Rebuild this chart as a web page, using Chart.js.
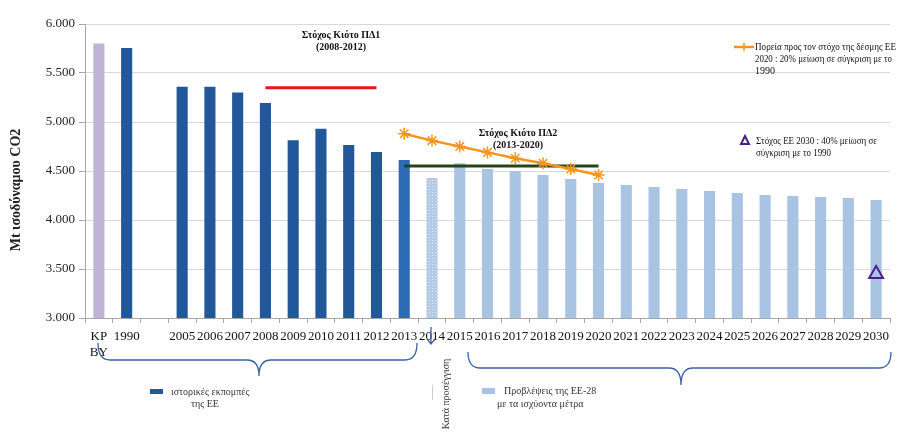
<!DOCTYPE html>
<html>
<head>
<meta charset="utf-8">
<script src="https://cdn.jsdelivr.net/npm/chart.js@4.4.1/dist/chart.umd.min.js"></script>
<style>
  body { margin: 0; background: #fff; }
  #wrap { width: 900px; height: 435px; position: relative; }
</style>
</head>
<body>
<div id="wrap"><canvas id="chart"></canvas></div>
<script>
// κατηγορίες (KP BY, 1990, κενό, 2005-2030)
const labels = [['KP', 'BY'], '1990', '', '2005', '2006', '2007', '2008', '2009', '2010', '2011', '2012',
  '2013', '2014', '2015', '2016', '2017', '2018', '2019', '2020', '2021', '2022', '2023', '2024',
  '2025', '2026', '2027', '2028', '2029', '2030'];

// εκπομπές σε Mt ισοδύναμου CO2
const emissions = [5800, 5755, null, 5360, 5360, 5300, 5195, 4815, 4930, 4765, 4695,
  4612, 4428, 4580, 4520, 4500, 4460, 4418, 4378, 4357, 4337, 4316, 4296,
  4275, 4255, 4245, 4235, 4225, 4205];

// στόχοι Κιότο
const kyoto1 = [null, null, null, null, null, null, 5350, 5350, 5350, 5350, 5350];
const kyoto2 = [null, null, null, null, null, null, null, null, null, null, null,
  4550, 4550, 4550, 4550, 4550, 4550, 4550, 4550];

// πορεία προς τον στόχο 2020
const path2020 = [null, null, null, null, null, null, null, null, null, null, null,
  4880, 4810, 4750, 4690, 4630, 4580, 4520, 4460];

// στόχος 2030
const target2030 = [];
target2030[28] = 3450;

const yTicks = [3000, 3500, 4000, 4500, 5000, 5500, 6000];

const SERIF = '"Liberation Serif", "DejaVu Serif", serif';

// μοτίβο για το 2014 (κατά προσέγγιση)
function dotPattern() {
  const c = document.createElement('canvas');
  c.width = 3; c.height = 3;
  const g = c.getContext('2d');
  g.fillStyle = '#b3c9e6';
  g.fillRect(0, 0, 3, 3);
  g.fillStyle = '#e3ecf7';
  g.fillRect(0, 0, 1, 1);
  return g.createPattern(c, 'repeat');
}

const barColors = emissions.map((v, i) => {
  if (i === 0) return '#bfb3d8';
  if (i <= 10) return '#22589a';
  if (i === 11) return '#2e6bb6';
  if (i === 12) return dotPattern();
  return '#a9c3e3';
});

function brace(ctx, x1, x2, yTop, yMid, xTip, yTip) {
  const r = 12;
  ctx.beginPath();
  ctx.moveTo(x1, yTop);
  ctx.quadraticCurveTo(x1, yMid, x1 + r, yMid);
  ctx.lineTo(xTip - r, yMid);
  ctx.quadraticCurveTo(xTip, yMid, xTip, yTip);
  ctx.quadraticCurveTo(xTip, yMid, xTip + r, yMid);
  ctx.lineTo(x2 - r, yMid);
  ctx.quadraticCurveTo(x2, yMid, x2, yTop);
  ctx.stroke();
}

const extras = {
  id: 'extras',
  afterDraw(chart) {
    const ctx = chart.ctx;
    ctx.save();

    // τίτλος άξονα y
    ctx.save();
    ctx.translate(16, 190);
    ctx.rotate(-Math.PI / 2);
    ctx.font = 'bold 14px ' + SERIF;
    ctx.fillStyle = '#222';
    ctx.textAlign = 'center';
    ctx.textBaseline = 'middle';
    ctx.fillText('Mt ισοδύναμου CO2', 0, 0);
    ctx.restore();

    // Κιότο
    ctx.fillStyle = '#111';
    ctx.textAlign = 'center';
    ctx.textBaseline = 'middle';
    ctx.font = 'bold 10px ' + SERIF;
    ctx.fillText('Στόχος Κιότο ΠΔ1', 341, 35);
    ctx.fillText('(2008-2012)', 341, 47);
    ctx.fillText('Στόχος Κιότο ΠΔ2', 518, 133);
    ctx.fillText('(2013-2020)', 518, 145);

    // υπόμνημα πάνω δεξιά
    ctx.strokeStyle = '#f7941e';
    ctx.lineWidth = 2.5;
    ctx.beginPath(); ctx.moveTo(734, 47); ctx.lineTo(754, 47); ctx.stroke();
    ctx.lineWidth = 1.5;
    ctx.beginPath();
    ctx.moveTo(744, 43); ctx.lineTo(744, 51);
    ctx.moveTo(740, 47); ctx.lineTo(748, 47);
    ctx.stroke();
    ctx.textAlign = 'left';
    ctx.font = '10px ' + SERIF;
    ctx.fillText('Πορεία προς τον στόχο της δέσμης ΕΕ', 755, 47, 141);
    ctx.fillText('2020 : 20% μείωση σε σύγκριση με το', 755, 59, 137);
    ctx.fillText('1990', 755, 71);

    ctx.strokeStyle = '#4b1e8f';
    ctx.lineWidth = 2;
    ctx.beginPath();
    ctx.moveTo(745, 136); ctx.lineTo(749, 144); ctx.lineTo(741, 144); ctx.closePath();
    ctx.stroke();
    ctx.fillText('Στόχος ΕΕ 2030 : 40% μείωση σε', 756, 141, 121);
    ctx.fillText('σύγκριση με το 1990', 756, 153, 75);

    // άγκιστρα
    ctx.strokeStyle = '#3a63a6';
    ctx.lineWidth = 1.3;
    brace(ctx, 98, 417, 343, 360, 259, 376);
    brace(ctx, 468, 891, 352, 368, 681, 385);

    // βέλος 2014
    ctx.beginPath();
    ctx.moveTo(431, 327); ctx.lineTo(431, 344);
    ctx.moveTo(427, 339); ctx.lineTo(431, 344); ctx.lineTo(435, 339);
    ctx.stroke();

    // υπόμνημα κάτω
    ctx.fillStyle = '#22589a';
    ctx.fillRect(150, 389, 13, 5);
    ctx.fillStyle = '#a9c3e3';
    ctx.fillRect(482, 388, 13, 6);
    ctx.strokeStyle = '#cccccc';
    ctx.lineWidth = 1;
    ctx.beginPath(); ctx.moveTo(432.5, 385); ctx.lineTo(432.5, 400); ctx.stroke();

    ctx.fillStyle = '#333';
    ctx.font = '10px ' + SERIF;
    ctx.textAlign = 'left';
    ctx.fillText('ιστορικές εκπομπές', 171, 392);
    ctx.fillText('της ΕΕ', 191, 404);
    ctx.fillText('Προβλέψεις της ΕΕ-28', 504, 391);
    ctx.fillText('με τα ισχύοντα μέτρα', 497, 404);

    ctx.save();
    ctx.translate(446, 394);
    ctx.rotate(-Math.PI / 2);
    ctx.textAlign = 'center';
    ctx.fillText('Κατά προσέγγιση', 0, 0);
    ctx.restore();

    ctx.restore();
  }
};

new Chart(document.getElementById('chart'), {
  type: 'bar',
  data: {
    labels: labels,
    datasets: [
      {
        type: 'line', label: 'Στόχος Κιότο ΠΔ1', data: kyoto1, order: 1,
        borderColor: '#e5161c', borderWidth: 3, pointRadius: 0, fill: false
      },
      {
        type: 'line', label: 'Στόχος Κιότο ΠΔ2', data: kyoto2, order: 2,
        borderColor: '#26431a', borderWidth: 3, pointRadius: 0, fill: false
      },
      {
        type: 'line', label: 'Πορεία προς τον στόχο 2020', data: path2020, order: 0,
        borderColor: '#f7941e', borderWidth: 2.5, fill: false,
        pointStyle: 'star', pointRadius: 6, pointBorderWidth: 1.5,
        pointBorderColor: '#f7941e', pointBackgroundColor: '#f7941e'
      },
      {
        type: 'line', label: 'Στόχος ΕΕ 2030', data: target2030, order: 0,
        showLine: false, pointStyle: 'triangle', pointRadius: 8, pointBorderWidth: 2,
        pointBorderColor: '#4b1e8f', pointBackgroundColor: 'rgba(255,255,255,0)'
      },
      {
        label: 'Εκπομπές', data: emissions, order: 5,
        backgroundColor: barColors, borderWidth: 0,
        categoryPercentage: 1, barPercentage: 0.4
      }
    ]
  },
  options: {
    responsive: true,
    maintainAspectRatio: false,
    animation: false,
    layout: { padding: { top: 24, right: 2, left: 0, bottom: 0 } },
    plugins: { legend: { display: false }, tooltip: { enabled: false } },
    scales: {
      x: {
        afterFit: s => { s.height = 117; },
        grid: { display: true, drawOnChartArea: false, drawTicks: true, tickLength: 5, color: '#a6a6a6', offset: true },
        border: { color: '#a6a6a6' },
        ticks: {
          autoSkip: false, maxRotation: 0, minRotation: 0, padding: 6,
          color: '#111', font: { family: SERIF, size: 13 }
        }
      },
      y: {
        min: 3000, max: 6000,
        afterFit: s => { s.width = 85; },
        afterBuildTicks: s => { s.ticks = yTicks.map(v => ({ value: v })); },
        grid: { color: '#d9d9d9', tickLength: 6, tickColor: '#a6a6a6' },
        border: { color: '#a6a6a6' },
        ticks: {
          color: '#222', padding: 4,
          font: { family: SERIF, size: 13 },
          callback: v => (v / 1000).toFixed(3)
        }
      }
    }
  },
  plugins: [extras]
});
</script>
</body>
</html>
